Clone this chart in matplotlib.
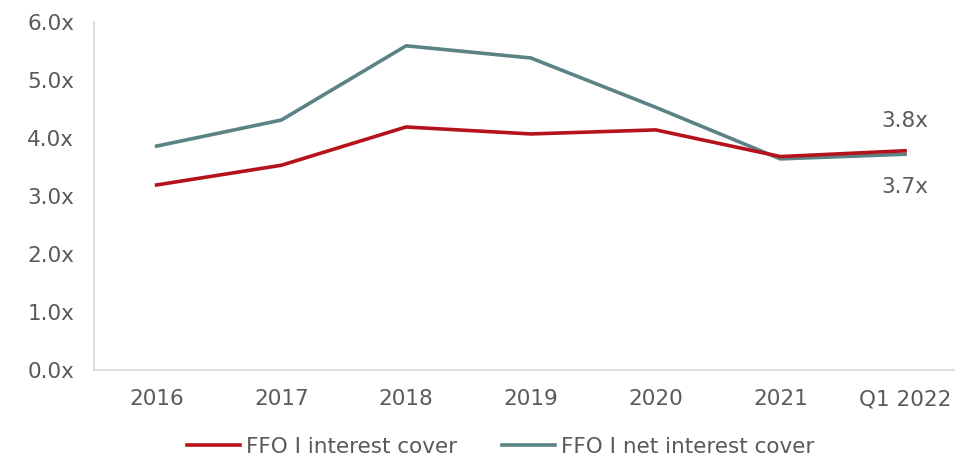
import matplotlib
matplotlib.use("Agg")
from matplotlib import pyplot as plt

# data
years = ["2016", "2017", "2018", "2019", "2020", "2021", "Q1 2022"]
interest_cover = [3.19, 3.53, 4.19, 4.07, 4.14, 3.68, 3.78]
net_interest_cover = [3.86, 4.31, 5.59, 5.38, 4.53, 3.64, 3.72]
yticks = [0, 1, 2, 3, 4, 5, 6]

red = "#B5121B"
teal = "#5B8385"
grey = "#595959"

plt.rcParams["font.family"] = ["DejaVu Sans"]

fig = plt.figure(figsize=(9.55, 4.59), dpi=100)
ax = fig.add_axes([0.098, 0.194, 0.902, 0.758])

x = list(range(len(years)))
ax.plot(x, net_interest_cover, color=teal, lw=2.6, label="FFO I net interest cover", zorder=2)
ax.plot(x, interest_cover, color=red, lw=2.6, label="FFO I interest cover", zorder=3)

ax.set_xlim(-0.505, 6.4)
ax.set_ylim(0, 6)
ax.set_xticks(x)
ax.set_xticklabels(years)
ax.set_yticks(yticks)
ax.set_yticklabels([f"{v:.1f}x" for v in yticks])
ax.tick_params(axis="both", length=0, labelsize=15.5, colors=grey)
ax.tick_params(axis="x", pad=14)
ax.tick_params(axis="y", pad=14)

for s in ["top", "right"]:
    ax.spines[s].set_visible(False)
for s in ["left", "bottom"]:
    ax.spines[s].set_color("#D9D9D9")
    ax.spines[s].set_linewidth(1.2)

# end labels
ax.annotate(f"{interest_cover[-1]:.1f}x", (x[-1], interest_cover[-1]),
            xytext=(0, 30), textcoords="offset pixels", ha="center", va="center",
            fontsize=15.5, color=grey)
ax.annotate(f"{net_interest_cover[-1]:.1f}x", (x[-1], net_interest_cover[-1]),
            xytext=(0, -33), textcoords="offset pixels", ha="center", va="center",
            fontsize=15.5, color=grey)

h, l = ax.get_legend_handles_labels()
fig.legend(h[::-1], l[::-1], loc="center", bbox_to_anchor=(0.524, 0.027), ncol=2,
           frameon=False, fontsize=15.5, labelcolor=grey, handlelength=2.45,
           handletextpad=0.28, columnspacing=2.1)

plt.savefig("out.png", dpi=100)
